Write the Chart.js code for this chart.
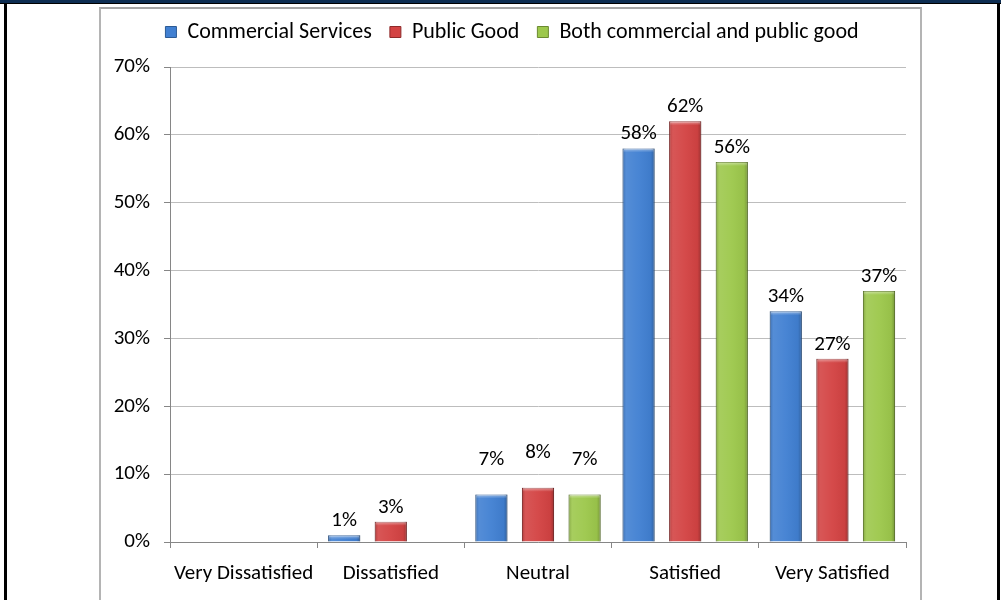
<!DOCTYPE html>
<html>
<head>
<meta charset="utf-8">
<script src="https://cdn.jsdelivr.net/npm/chart.js@4/dist/chart.umd.min.js"></script>
<style>
  html, body { margin: 0; padding: 0; background: #fff; }
  body { width: 1001px; height: 600px; position: relative; overflow: hidden; }
  .topbar { position: absolute; left: 0; top: 0; width: 1001px; height: 3px; background: #0d2d52; border-bottom: 1px solid #000; }
  .edge { position: absolute; top: 4px; width: 3px; height: 596px; background: #000; }
  .frame { position: absolute; left: 99px; top: 7px; width: 819px; height: 600px;
           border-left: 2px solid #b4b4b4; border-top: 2px solid #a6a6a6; border-right: 2px solid #b4b4b4; }
  canvas { position: absolute; left: 0; top: 0; }
</style>
</head>
<body>
<div class="topbar"></div>
<div class="edge" style="left:4px"></div>
<div class="edge" style="left:997px"></div>
<div class="frame"></div>
<canvas id="c" width="1001" height="600"></canvas>
<script>
// Satisfaction ratings by type of use
const categories = ['Very Dissatisfied', 'Dissatisfied', 'Neutral', 'Satisfied', 'Very Satisfied'];
const seriesNames = ['Commercial Services', 'Public Good', 'Both commercial and public good'];
const commercial = [0, 1, 7, 58, 34];
const publicGood = [0, 3, 8, 62, 27];
const both       = [0, 0, 7, 56, 37];
const yMax = 70;
const yStep = 10;

const FONT = "Carlito, Calibri, Lato, 'Open Sans', sans-serif";
const FS = 21;
const fills   = ['#4180d2', '#d34343', '#9dc84c'];
const borders = ['#2c5a94', '#8e2a2a', '#6b8a30'];
// extra lift (px) for value labels per category
const labelLift = [0, 0, 21, 0, 0];
// horizontal nudge of the legend row (px)
const legendShift = 9;

Chart.defaults.font.family = FONT;
Chart.defaults.font.size = FS;
Chart.defaults.color = '#000';

const bevel = {
  id: 'bevel',
  afterDatasetsDraw(chart) {
    const ctx = chart.ctx;
    chart.data.datasets.forEach((ds, di) => {
      chart.getDatasetMeta(di).data.forEach(bar => {
        const h = bar.base - bar.y;
        if (h <= 0.5) return;
        const l = bar.x - bar.width / 2, r = bar.x + bar.width / 2;
        const g = ctx.createLinearGradient(l, 0, r, 0);
        g.addColorStop(0, 'rgba(0,0,0,0.18)');
        g.addColorStop(0.12, 'rgba(255,255,255,0.10)');
        g.addColorStop(0.5, 'rgba(255,255,255,0.04)');
        g.addColorStop(0.88, 'rgba(0,0,0,0.04)');
        g.addColorStop(1, 'rgba(0,0,0,0.25)');
        ctx.save();
        ctx.fillStyle = g;
        ctx.fillRect(l, bar.y, bar.width, h);
        const t = Math.min(4, h);
        const tg = ctx.createLinearGradient(0, bar.y, 0, bar.y + t);
        tg.addColorStop(0, 'rgba(255,255,255,0.45)');
        tg.addColorStop(1, 'rgba(255,255,255,0)');
        ctx.fillStyle = tg;
        ctx.fillRect(l + 1, bar.y + 0.5, bar.width - 2, t);
        ctx.restore();
      });
    });
  }
};

const valueLabels = {
  id: 'valueLabels',
  afterDatasetsDraw(chart) {
    const ctx = chart.ctx;
    ctx.save();
    ctx.font = `${FS}px ${FONT}`;
    ctx.fillStyle = '#000';
    ctx.textAlign = 'center';
    ctx.textBaseline = 'alphabetic';
    chart.data.datasets.forEach((ds, di) => {
      chart.getDatasetMeta(di).data.forEach((bar, i) => {
        const v = ds.data[i];
        if (!v) return;
        ctx.fillText(v + '%', bar.x, bar.y - 9 - labelLift[i]);
      });
    });
    ctx.restore();
  }
};

const legendBox = {
  id: 'legendBox',
  beforeInit(chart) {
    const legend = chart.legend;
    const fit = legend.fit;
    legend.fit = function () {
      fit.call(this);
      this.height = 64;
    };
    const draw = legend.draw;
    legend.draw = function () {
      const ctx = this.ctx;
      ctx.save();
      ctx.translate(legendShift, 0);
      draw.call(this);
      ctx.restore();
    };
  }
};

new Chart(document.getElementById('c'), {
  type: 'bar',
  data: {
    labels: categories,
    datasets: [commercial, publicGood, both].map((d, i) => ({
      label: seriesNames[i],
      data: d,
      backgroundColor: fills[i],
      borderColor: borders[i],
      borderWidth: 1,
      categoryPercentage: 0.95,
      barPercentage: 0.69
    }))
  },
  options: {
    responsive: false,
    animation: false,
    layout: { padding: { left: 100, right: 95, top: 3, bottom: 0 } },
    plugins: {
      legend: {
        position: 'top',
        labels: { boxWidth: 11, boxHeight: 11, padding: 18, font: { size: 22, family: FONT } }
      },
      tooltip: { enabled: false }
    },
    scales: {
      x: {
        grid: { drawOnChartArea: false, drawTicks: true, tickLength: 6, color: '#868686' },
        border: { color: '#868686', width: 1 },
        ticks: { padding: 13, font: { size: FS, family: FONT } },
        afterFit(s) { s.height = 58; }
      },
      y: {
        min: 0, max: yMax,
        ticks: { stepSize: yStep, padding: 14, callback: v => v + '%', font: { size: FS, family: FONT } },
        grid: { color: '#bdbdbd', tickLength: 6, tickColor: '#868686' },
        border: { color: '#868686', width: 1 },
        afterFit(s) { s.width = 70; }
      }
    }
  },
  plugins: [legendBox, bevel, valueLabels]
});
</script>
</body>
</html>
